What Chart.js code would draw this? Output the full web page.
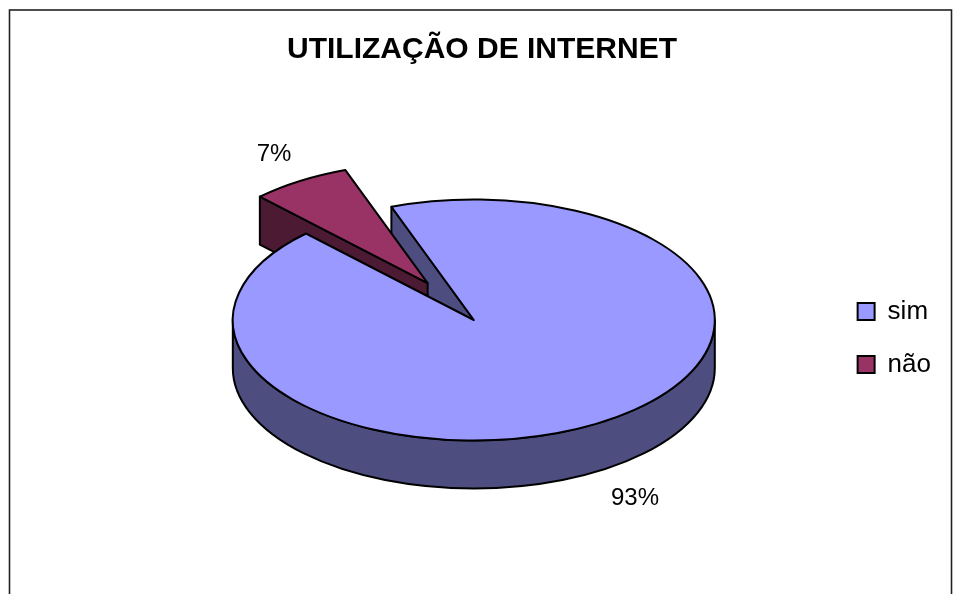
<!DOCTYPE html>
<html>
<head>
<meta charset="utf-8">
<title>Utilização de internet</title>
<script src="https://cdn.jsdelivr.net/npm/chart.js@4"></script>
<style>
    html, body { margin: 0; padding: 0; background: #fff; overflow: hidden; }
    canvas { display: block; }
</style>
</head>
<body>
<canvas id="graficoPizza" width="954" height="594"></canvas>
<script>
// Dados
var categorias = ['sim', 'não'];
var valores = [93.3, 6.7];
var coresTopo = ['#9999ff', '#993366'];
var coresLado = ['#4d4d80', '#4d1a33'];
var explosao = [0, 87];

var titulo = 'UTILIZAÇÃO DE INTERNET';
var fonte = '"Liberation Sans", Arial, sans-serif';

// Aparência da pizza 3D
var achatamento = 0.5;
var profundidade = 48;
var posRotulos = [[635, 498], [274, 154]];

// Caminho do topo de uma fatia (elipse)
function caminhoTopo(ctx, f) {
    ctx.beginPath();
    ctx.moveTo(f.x, f.y);
    ctx.ellipse(f.x, f.y, f.r, f.r * achatamento, 0, f.inicio, f.fim);
    ctx.closePath();
}

function pintar(ctx, cor, largura) {
    ctx.fillStyle = cor;
    ctx.fill();
    ctx.lineWidth = largura;
    ctx.strokeStyle = '#000';
    ctx.stroke();
}

// Face do corte, do centro até a borda, no ângulo dado
function faceCorte(ctx, f, ang, cor, largura) {
    var bx = f.x + Math.cos(ang) * f.r;
    var by = f.y + Math.sin(ang) * f.r * achatamento;
    ctx.beginPath();
    ctx.moveTo(f.x, f.y);
    ctx.lineTo(bx, by);
    ctx.lineTo(bx, by + profundidade);
    ctx.lineTo(f.x, f.y + profundidade);
    ctx.closePath();
    pintar(ctx, cor, largura);
}

// Parede externa, só a parte virada para a frente (metade de baixo da elipse)
function paredeExterna(ctx, f, cor, largura) {
    var voltas = [0, 2 * Math.PI, -2 * Math.PI];
    voltas.forEach(function(v) {
        var a = Math.max(f.inicio + v, 0);
        var b = Math.min(f.fim + v, Math.PI);
        if (b <= a) return;
        var ry = f.r * achatamento;
        ctx.beginPath();
        ctx.ellipse(f.x, f.y, f.r, ry, 0, a, b);
        ctx.ellipse(f.x, f.y + profundidade, f.r, ry, 0, b, a, true);
        ctx.closePath();
        pintar(ctx, cor, largura);
    });
}

var pizza3d = {
    id: 'pizza3d',
    beforeDraw: function(chart) {
        // moldura do gráfico
        var ctx = chart.ctx;
        ctx.save();
        ctx.lineWidth = 1.6;
        ctx.strokeStyle = '#222';
        ctx.strokeRect(9.5, 10, 942, 600);
        ctx.restore();
    },
    afterLayout: function(chart) {
        // título e legenda ficam fora do centro da área do gráfico
        var t = chart.titleBlock;
        var dx = 482 - (t.left + t.right) / 2;
        t.left += dx;
        t.right += dx;
        var l = chart.legend;
        var dy = 338 - (l.top + l.bottom) / 2;
        l.top += dy;
        l.bottom += dy;
        l.left -= 13;
        l.right -= 13;
    },
    beforeDatasetsDraw: function(chart) {
        var ctx = chart.ctx;
        var arcos = chart.getDatasetMeta(0).data;
        var fatias = arcos.map(function(arco, i) {
            var meio = (arco.startAngle + arco.endAngle) / 2;
            return {
                x: arco.x + Math.cos(meio) * explosao[i],
                y: arco.y + Math.sin(meio) * explosao[i] * achatamento,
                r: arco.outerRadius,
                inicio: arco.startAngle,
                fim: arco.endAngle,
                largura: arco.options.borderWidth
            };
        });
        var sim = fatias[0], nao = fatias[1];

        ctx.save();
        ctx.lineJoin = 'round';
        // ordem: lados de "sim", fatia "não" inteira, depois o topo de "sim"
        faceCorte(ctx, sim, sim.inicio, coresLado[0], sim.largura);
        paredeExterna(ctx, sim, coresLado[0], sim.largura);
        faceCorte(ctx, nao, nao.inicio, coresLado[1], nao.largura);
        caminhoTopo(ctx, nao);
        pintar(ctx, coresTopo[1], nao.largura);
        caminhoTopo(ctx, sim);
        pintar(ctx, coresTopo[0], sim.largura);

        // rótulos de porcentagem
        var total = valores.reduce(function(a, b) { return a + b; }, 0);
        ctx.fillStyle = '#000';
        ctx.font = '24px ' + fonte;
        ctx.textAlign = 'center';
        ctx.textBaseline = 'middle';
        valores.forEach(function(v, i) {
            ctx.fillText(Math.round(v / total * 100) + '%', posRotulos[i][0], posRotulos[i][1]);
        });
        ctx.restore();
        return false;
    }
};

var ctxPizza = document.getElementById('graficoPizza').getContext('2d');
var graficoPizza = new Chart(ctxPizza, {
    type: 'pie',
    data: {
        labels: categorias,
        datasets: [{
            data: valores,
            backgroundColor: coresTopo,
            borderColor: '#000',
            borderWidth: 2
        }]
    },
    options: {
        responsive: false,
        animation: false,
        rotation: -20,
        layout: { padding: { left: 104, right: 0, top: 0, bottom: 32 } },
        plugins: {
            title: {
                display: true,
                text: titulo,
                color: '#000',
                font: { family: fonte, size: 30, weight: 'bold' },
                padding: { top: 32, bottom: 10 }
            },
            legend: {
                position: 'right',
                labels: {
                    boxWidth: 17,
                    boxHeight: 17,
                    padding: 27,
                    color: '#000',
                    font: { family: fonte, size: 26 }
                }
            },
            tooltip: { enabled: false }
        }
    },
    plugins: [pizza3d]
});
</script>
</body>
</html>
